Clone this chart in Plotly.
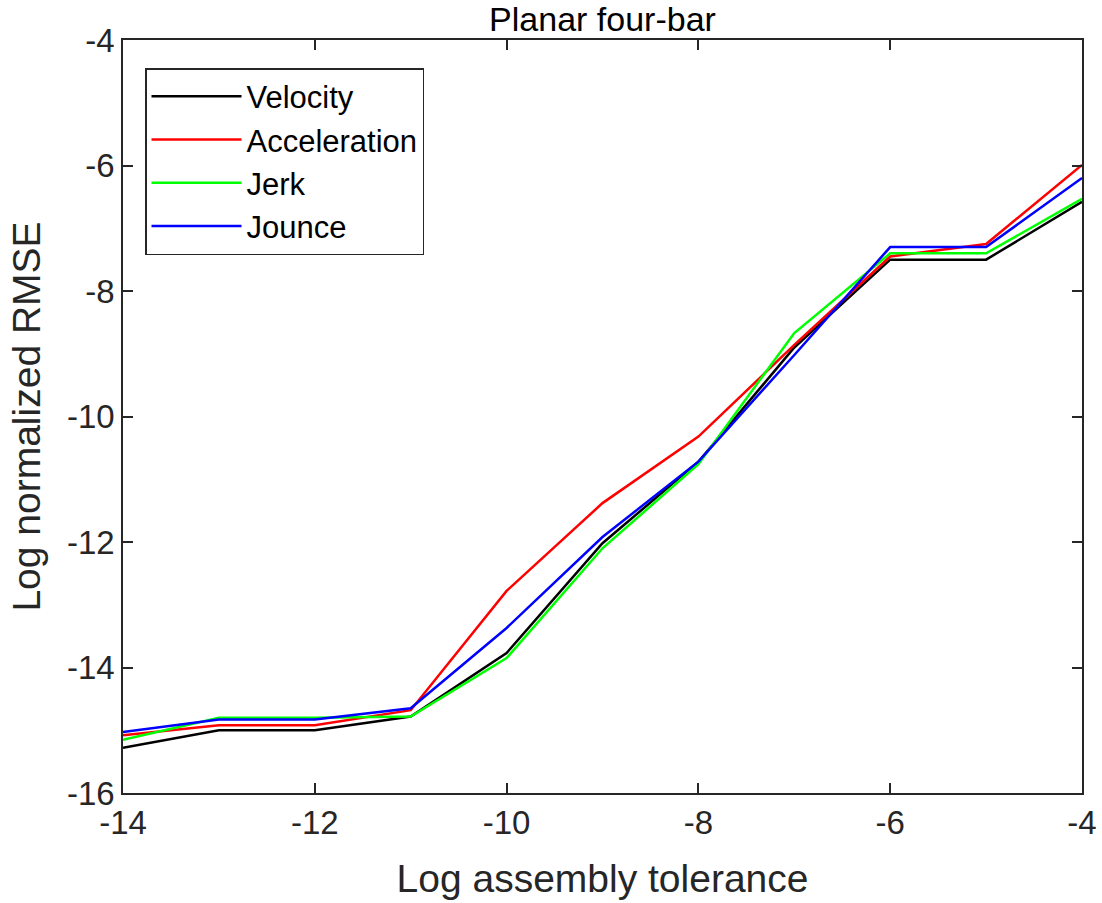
import plotly.graph_objects as go

tol = [-14, -13, -12, -11, -10, -9, -8, -7, -6, -5, -4]
velocity = [-15.28, -15.0, -15.0, -14.78, -13.77, -12.02, -10.72, -8.9, -7.5, -7.5, -6.58]
acceleration = [-15.08, -14.92, -14.92, -14.68, -12.78, -11.38, -10.32, -8.86, -7.45, -7.25, -5.99]
jerk = [-15.15, -14.8, -14.8, -14.78, -13.85, -12.1, -10.76, -8.67, -7.4, -7.4, -6.53]
jounce = [-15.03, -14.83, -14.83, -14.65, -13.37, -11.92, -10.72, -9.02, -7.3, -7.3, -6.2]

names = ["Velocity", "Acceleration", "Jerk", "Jounce"]
colors = ["#000000", "#FF0000", "#00FF00", "#0000FF"]
series = [velocity, acceleration, jerk, jounce]

x_ticks = [-14, -12, -10, -8, -6, -4]
y_ticks = [-16, -14, -12, -10, -8, -6, -4]

font_family = "Liberation Sans, Arial, sans-serif"
axis_color = "#262626"

fig = go.Figure()
for name, col, ys in zip(names, colors, series):
    fig.add_trace(go.Scatter(x=tol, y=ys, mode="lines", name=name,
                             line=dict(color=col, width=2.5)))

axis_common = dict(
    showgrid=False, zeroline=False, showline=True, linecolor=axis_color, linewidth=1.5,
    mirror="ticks", ticks="inside", ticklen=10, tickwidth=1.5, tickcolor=axis_color,
    tickfont=dict(family=font_family, size=33, color=axis_color),
    automargin=False,
)

fig.update_layout(
    width=1102, height=903,
    paper_bgcolor="white", plot_bgcolor="white",
    margin=dict(l=123, r=20, t=40, b=110),
    font=dict(family=font_family, color=axis_color),
    title=dict(text="Planar four-bar", x=0.5, xref="paper", xanchor="center",
               y=1 - 19 / 903, yref="container", yanchor="middle",
               font=dict(family=font_family, size=34, color="#000000")),
    xaxis=dict(range=[-14, -4], tickmode="array", tickvals=x_ticks,
               ticktext=[str(v) for v in x_ticks],
               title=dict(text="Log assembly tolerance", standoff=24,
                          font=dict(family=font_family, size=39, color=axis_color)),
               **axis_common),
    yaxis=dict(range=[-16, -4], tickmode="array", tickvals=y_ticks,
               ticktext=[str(v) for v in y_ticks],
               title=dict(text="Log normalized RMSE", standoff=14,
                          font=dict(family=font_family, size=39, color=axis_color)),
               **axis_common),
    legend=dict(x=(145 - 123) / 959, xanchor="left", y=1 - (68 - 40) / 753, yanchor="top",
                bgcolor="white", bordercolor=axis_color, borderwidth=1.5,
                font=dict(family=font_family, size=31, color="#000000"),
                itemwidth=90, tracegroupgap=0),
    showlegend=True,
)

fig.write_html("out.html")
